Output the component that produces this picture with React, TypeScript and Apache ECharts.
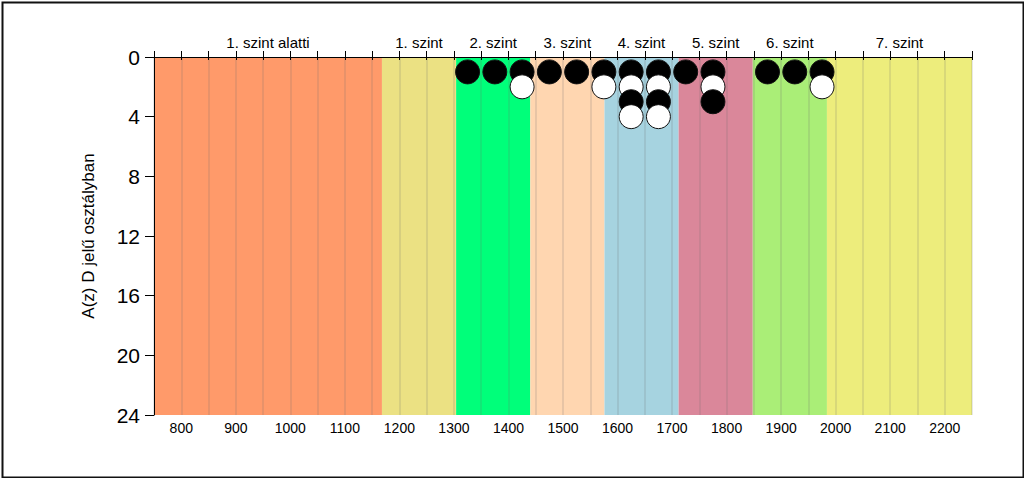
import React, { useEffect, useRef } from "react";
import * as echarts from "echarts";

const bandNames = ["1. szint alatti", "1. szint", "2. szint", "3. szint", "4. szint", "5. szint", "6. szint", "7. szint"];
const bandEdges = [750, 1168, 1304, 1440, 1576, 1712, 1848, 1984, 2250];
const bandColors = ["#FF9A6A", "#EBE183", "#00FF7A", "#FFD6B0", "#A6D3E0", "#DA879A", "#AAEE77", "#EDED7C"];

// points: score bin and count of dots stacked
const pointX = [1325, 1375, 1425, 1475, 1525, 1575, 1625, 1675, 1725, 1775, 1875, 1925, 1975];
const pointCount = [1, 1, 2, 1, 1, 2, 4, 4, 1, 3, 1, 1, 2];

const yTicks = [0, 4, 8, 12, 16, 20, 24];

export default function App() {
  const ref = useRef<HTMLDivElement>(null);
  useEffect(() => {
    document.body.style.margin = "0";
    const chart = echarts.init(ref.current!, null, { renderer: "svg" });

    const maxCount = Math.max(...pointCount);
    const dots: any[] = [];
    for (let level = 1; level <= maxCount; level++) {
      pointX.forEach((x, i) => {
        if (pointCount[i] >= level) {
          const black = level % 2 === 1;
          dots.push({
            value: [x, level],
            itemStyle: { color: black ? "#000000" : "#ffffff", borderColor: "#111", borderWidth: 1, opacity: 1 },
          });
        }
      });
    }

    const areas = bandNames.map((name, i) => [
      { name, xAxis: bandEdges[i], itemStyle: { color: bandColors[i], opacity: 1 } },
      { xAxis: bandEdges[i + 1] },
    ]);

    chart.setOption({
      animation: false,
      textStyle: { fontFamily: "Liberation Sans, Arial, sans-serif" },
      grid: { left: 154, right: 52, top: 57, bottom: 63, containLabel: false },
      graphic: [
        {
          type: "rect",
          left: 0,
          top: 0,
          shape: { x: 1, y: 1, width: 1021, height: 475 },
          style: { fill: "none", stroke: "#111", lineWidth: 2 },
          silent: true,
          z: 100,
        },
      ],
      xAxis: [
        {
          type: "value",
          position: "bottom",
          min: 750,
          max: 2250,
          interval: 50,
          z: 4,
          axisLine: { show: true, lineStyle: { color: "#000", width: 1 } },
          axisTick: { show: true, length: 3, lineStyle: { color: "#000" } },
          axisLabel: {
            color: "#000",
            fontSize: 14,
            margin: 6,
            formatter: (v: number) => (v % 100 === 0 ? String(v) : ""),
          },
          splitLine: { show: true, lineStyle: { color: "rgba(110,110,110,0.22)", width: 1.5 } },
        },
        {
          type: "value",
          position: "top",
          min: 750,
          max: 2250,
          interval: 50,
          z: 4,
          axisLine: { show: true, lineStyle: { color: "#000", width: 1 } },
          axisTick: { show: true, length: 6, lineStyle: { color: "#000" } },
          axisLabel: { show: false },
          splitLine: { show: false },
        },
      ],
      yAxis: {
        type: "value",
        inverse: true,
        min: 0,
        max: 24,
        interval: 4,
        z: 4,
        name: "A(z) D jelű osztályban",
        nameLocation: "middle",
        nameGap: 57,
        nameRotate: 90,
        nameTextStyle: { color: "#000", fontSize: 17 },
        axisLine: { show: true, lineStyle: { color: "#000", width: 1 } },
        axisTick: { show: true, length: 9, lineStyle: { color: "#000" } },
        axisLabel: {
          color: "#000",
          fontSize: 21,
          margin: 14,
          formatter: (v: number) => (yTicks.includes(v) ? String(v) : ""),
        },
        splitLine: { show: false },
      },
      series: [
        {
          type: "line",
          xAxisIndex: 0,
          data: [],
          z: 1,
          silent: true,
          markArea: {
            silent: true,
            label: { show: true, position: "top", distance: 7, color: "#000", fontSize: 15 },
            data: areas,
          },
        },
        {
          type: "scatter",
          xAxisIndex: 0,
          symbol: "circle",
          symbolSize: 24,
          z: 6,
          itemStyle: { opacity: 1 },
          data: dots,
        },
      ],
    });
    return () => chart.dispose();
  }, []);
  return <div ref={ref} style={{ width: 1024, height: 478 }} />;
}
